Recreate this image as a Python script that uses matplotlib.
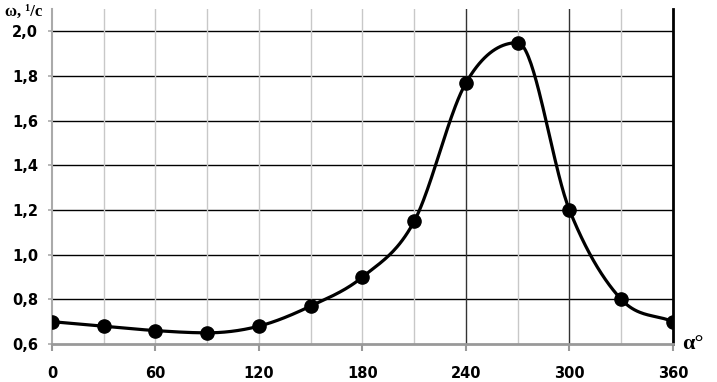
import numpy as np
import matplotlib
matplotlib.use("Agg")
import matplotlib.pyplot as plt

# data
alpha = [0, 30, 60, 90, 120, 150, 180, 210, 240, 270, 300, 330, 360]
omega = [0.70, 0.68, 0.66, 0.65, 0.68, 0.77, 0.90, 1.15, 1.77, 1.95, 1.20, 0.80, 0.70]
x_ticks = [0, 60, 120, 180, 240, 300, 360]
y_ticks = [0.6, 0.8, 1.0, 1.2, 1.4, 1.6, 1.8, 2.0]
y_labels = ["0,6", "0,8", "1,0", "1,2", "1,4", "1,6", "1,8", "2,0"]


def smooth_curve(ax, xs, ys, n=40):
    # Excel-like smoothed line (bezier through the dots, in pixel space),
    # flat tangent at local peaks/troughs so it doesn't overshoot
    pts = ax.transData.transform(np.column_stack([xs, ys]))
    k = len(pts)
    tang = np.zeros_like(pts)
    for i in range(k):
        a = pts[max(i - 1, 0)]
        b = pts[min(i + 1, k - 1)]
        tang[i] = (b - a) / (2.0 if 0 < i < k - 1 else 1.0)
        if 0 < i < k - 1:
            if (ys[i] - ys[i - 1]) * (ys[i + 1] - ys[i]) < 0:
                tang[i][1] = 0.0
    out = []
    t = np.linspace(0, 1, n)[:, None]
    for i in range(k - 1):
        p1, p2 = pts[i], pts[i + 1]
        c1 = p1 + tang[i] / 3.0
        c2 = p2 - tang[i + 1] / 3.0
        seg = (1 - t) ** 3 * p1 + 3 * (1 - t) ** 2 * t * c1 + 3 * (1 - t) * t ** 2 * c2 + t ** 3 * p2
        out.append(seg)
    return ax.transData.inverted().transform(np.vstack(out))


fig = plt.figure(figsize=(7.17, 3.82), dpi=100)
ax = fig.add_axes([0.0725, 0.0995, 0.8661, 0.8765])
ax.set_xlim(0, 360)
ax.set_ylim(0.6, 2.1)

# grid
for yv in y_ticks[1:]:
    ax.axhline(yv, color="black", lw=1.0, zorder=1)
for xv in range(30, 360, 30):
    dark = xv in (240, 300)
    ax.axvline(xv, color="#333333" if dark else "#c8c8c8", lw=1.0, zorder=1)

curve = smooth_curve(ax, alpha, omega)
ax.plot(curve[:, 0], curve[:, 1], color="black", lw=2.3, zorder=3, solid_capstyle="round")
ax.plot(alpha, omega, "o", color="black", ms=9.5, zorder=4)

ax.spines["top"].set_visible(False)
ax.spines["right"].set_color("black")
ax.spines["right"].set_linewidth(2.0)
ax.spines["left"].set_color("#aaaaaa")
ax.spines["left"].set_linewidth(1.5)
ax.spines["bottom"].set_color("#999999")
ax.spines["bottom"].set_linewidth(2.0)

ax.set_xticks(x_ticks)
ax.set_xticklabels([str(v) for v in x_ticks])
ax.set_yticks(y_ticks)
ax.set_yticklabels(y_labels)
ax.tick_params(axis="x", direction="out", length=5, width=1.5, color="#999999", pad=11)
ax.tick_params(axis="y", direction="out", length=3, width=1.2, color="#aaaaaa", pad=7)
for lab in ax.get_xticklabels() + ax.get_yticklabels():
    lab.set_fontweight("bold")
    lab.set_fontsize(10.5)

fig.text(0.007, 0.968, "ω, ¹/c", fontsize=12, fontweight="bold",
         family="Liberation Serif", va="center", ha="left")
fig.text(0.952, 0.10, "α°", fontsize=16, fontweight="bold",
         family="Liberation Serif", va="center", ha="left")

fig.savefig("out.png", dpi=100)
